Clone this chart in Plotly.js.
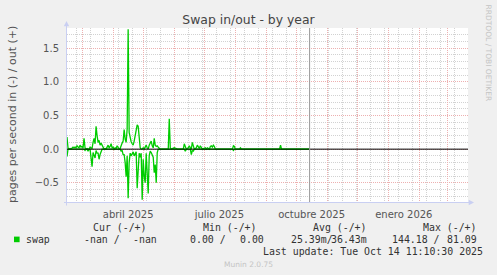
<!DOCTYPE html>
<html>
<head>
<meta charset="utf-8">
<script src="https://cdn.plot.ly/plotly-3.0.1.min.js"></script>
<style>html,body{margin:0;padding:0;background:#F0F0F0;}#chart{width:497px;height:275px;}</style>
</head>
<body>
<div id="chart"></div>
<script>
// ---- data ----
const dates = [
  "2025-02-14","2025-02-15","2025-02-16","2025-02-17","2025-02-18","2025-02-19","2025-02-20","2025-02-21","2025-02-22","2025-02-23",
  "2025-02-24","2025-02-25","2025-02-26","2025-02-27","2025-02-28",
  "2025-03-01","2025-03-02","2025-03-03","2025-03-04","2025-03-05","2025-03-06","2025-03-07","2025-03-08","2025-03-09","2025-03-10",
  "2025-03-11","2025-03-12","2025-03-13","2025-03-14","2025-03-15","2025-03-16","2025-03-17","2025-03-18","2025-03-19","2025-03-20",
  "2025-03-21","2025-03-22","2025-03-23","2025-03-24","2025-03-25","2025-03-26","2025-03-27","2025-03-28","2025-03-29","2025-03-30","2025-03-31",
  "2025-04-01","2025-04-02","2025-04-03","2025-04-04","2025-04-05","2025-04-06","2025-04-07","2025-04-08","2025-04-09","2025-04-10",
  "2025-04-11","2025-04-12","2025-04-13","2025-04-14","2025-04-15","2025-04-16","2025-04-17","2025-04-18","2025-04-19","2025-04-20",
  "2025-04-21","2025-04-22","2025-04-23","2025-04-24","2025-04-25","2025-04-26","2025-04-27","2025-04-28","2025-04-29","2025-04-30",
  "2025-05-01","2025-05-02","2025-05-03","2025-05-04","2025-05-05","2025-05-06","2025-05-07","2025-05-08","2025-05-09","2025-05-10",
  "2025-05-11","2025-05-12","2025-05-13","2025-05-14","2025-05-15","2025-05-16","2025-05-17","2025-05-18",
  "2025-05-26","2025-05-27","2025-05-28","2025-05-29","2025-06-01","2025-06-02","2025-06-03","2025-06-04",
  "2025-06-10","2025-06-11","2025-06-12","2025-06-13","2025-06-15","2025-06-16","2025-06-17","2025-06-18","2025-06-19","2025-06-20",
  "2025-06-21","2025-06-22","2025-06-23","2025-06-24","2025-06-25","2025-06-26","2025-06-27","2025-06-28","2025-06-29",
  "2025-07-02","2025-07-03","2025-07-04","2025-07-05","2025-07-06","2025-07-07","2025-07-08","2025-07-09","2025-07-10","2025-07-11","2025-07-12",
  "2025-07-29","2025-07-30","2025-07-31","2025-08-01","2025-08-05","2025-08-06","2025-08-07",
  "2025-09-14","2025-09-15","2025-09-16","2025-10-14"
];
// pages per second swapped out (+)
const swapOut = [
  0.18,0.02,0,0.01,0,0.02,0.03,0.02,0.03,0.02,
  0.05,0.03,0.02,0.06,0.03,
  0.04,0.02,0.16,0.02,0,0.01,0,0,0.03,0.02,
  0.01,0.10,0.16,0.08,0.34,0.20,0.10,0.13,0.06,0.09,
  0.05,0.02,0,0.01,0,0.03,0.06,0.02,0.04,0.08,0.02,
  0.03,0,0.02,0.01,0.05,0.02,0,0.01,0.06,0.09,
  0.12,0.29,0.15,0.10,0.30,1.78,0.25,0.14,0.11,0.08,
  0.06,0.12,0.22,0.33,0.36,0.34,0.20,0.02,0,0,
  0.02,0,0.03,0.06,0.02,0,0.06,0.09,0.12,0.05,
  0.02,0.16,0.06,0.04,0.05,0.03,0.01,0,
  0,0.45,0.02,0,0.02,0.02,0.01,0,
  0,0.08,0.02,0,0.02,0.05,0.02,0,0.10,0.03,
  0,0.01,0.02,0.06,0.02,0.01,0.05,0.02,0,
  0.02,0,0.02,0.01,0,0.04,0.05,0.03,0.06,0.04,0,
  0,0.05,0.04,0,0,0.02,0,
  0,0.06,0,0
];
// pages per second swapped in (-), drawn below zero
const swapIn = [
  0.11,0,0,0,0.01,0,0,0,0,0,
  0,0,0,0,0,
  0,0.01,0,0.02,0,0,0.03,0,0,0.13,
  0.26,0.05,0.11,0.13,0.02,0.06,0.06,0.15,0.08,0.04,
  0,0,0,0,0,0,0,0,0,0,0,
  0,0,0,0,0,0,0,0,0.03,0.02,
  0.08,0.08,0.20,0.41,0.10,0.73,0.20,0.06,0.10,0.06,
  0.04,0.10,0.06,0.04,0.58,0.30,0.06,0.12,0.06,0.75,
  0.15,0.40,0.50,0.06,0.30,0.66,0.10,0.03,0.05,0.08,
  0.12,0.35,0.23,0.50,0.05,0,0,0,
  0,0,0,0,0,0,0,0,
  0,0,0.03,0,0,0,0,0.08,0.02,0.03,
  0,0,0,0,0,0,0,0,0,
  0,0,0,0,0,0,0,0,0,0,0,
  0,0.02,0,0,0,0,0,
  0,0,0,0
];
const monthStarts = ["2025-03-01","2025-04-01","2025-05-01","2025-06-01","2025-07-01","2025-08-01","2025-09-01",
  "2025-10-01","2025-11-01","2025-12-01","2026-01-01","2026-02-01","2026-03-01"];
const labelDates = ["2025-04-16","2025-07-16","2025-10-16","2026-01-16"];
const labelText = ["abril 2025","julio 2025","octubre 2025","enero 2026"];
const nowDate = "2025-10-14";
const xRange = ["2025-02-14","2026-03-21"];
const yRange = [-0.8, 1.8];

// ---- layout helpers (pixel -> paper) ----
const L = 67, R = 468, T = 28, B = 203;
const px = v => (v - L) / (R - L);
const py = v => (B - v) / (B - T);

const green = "#00CC00";
const mono = "DejaVu Sans Mono";
const sans = "DejaVu Sans";

const traces = [
  {x: dates, y: swapOut, xaxis: "x", yaxis: "y", type: "scatter", mode: "lines",
   line: {color: green, width: 1.3}, hoverinfo: "skip", showlegend: false},
  {x: dates, y: swapIn.map(v => -v), xaxis: "x2", yaxis: "y", type: "scatter", mode: "lines",
   line: {color: green, width: 1.3}, hoverinfo: "skip", showlegend: false}
];

function txt(text, x, y, anchor, opts) {
  return Object.assign({text: text, xref: "paper", yref: "paper", x: px(x), y: py(y),
    xanchor: anchor, yanchor: "middle", showarrow: false, borderpad: 0, borderwidth: 0,
    font: {family: mono, size: 9.9, color: "#333333"}}, opts || {});
}

const annotations = [
  {text: "pages per second in (-) / out (+)", xref: "paper", yref: "paper", x: px(12.5), y: py(114.5),
   xanchor: "center", yanchor: "middle", textangle: -90, showarrow: false,
   font: {family: sans, size: 11, color: "#555555"}},
  {text: "RRDTOOL / TOBI OETIKER", xref: "paper", yref: "paper", x: px(488.5), y: py(53),
   xanchor: "center", yanchor: "middle", textangle: 90, showarrow: false,
   font: {family: sans, size: 7.5, color: "#C4C4C4"}},
  txt("Cur (-/+)", 147.3, 227.7, "right"),
  txt("Min (-/+)", 257.3, 227.7, "right"),
  txt("Avg (-/+)", 367.3, 227.7, "right"),
  txt("Max (-/+)", 476.8, 227.7, "right"),
  txt("swap", 26, 239.3, "left"),
  txt("-nan /", 83.8, 239.3, "left"),
  txt("-nan", 156.6, 239.3, "right"),
  txt("0.00 /", 190.2, 239.3, "left"),
  txt("0.00", 263.8, 239.3, "right"),
  txt("25.39m/", 290.5, 239.3, "left"),
  txt("36.43m", 367.3, 239.3, "right"),
  txt("144.18 /", 391.5, 239.3, "left"),
  txt("81.09", 477.3, 239.3, "right"),
  txt("Last update: Tue Oct 14 11:10:30 2025", 483.3, 251.7, "right"),
  {text: "Munin 2.0.75", xref: "paper", yref: "paper", x: px(248.5), y: py(264.3),
   xanchor: "center", yanchor: "middle", showarrow: false,
   font: {family: sans, size: 7.5, color: "#C4C4C4"}}
];

const axisBlue = "#C9CFF2";
const shapes = [
  {type: "line", xref: "paper", yref: "y", x0: 0, x1: 1, y0: 0, y1: 0, layer: "above",
   line: {color: "#000000", width: 1}},
  {type: "line", xref: "x", yref: "paper", x0: nowDate, x1: nowDate, y0: 0, y1: 1, layer: "above",
   line: {color: "#999999", width: 1}},
  {type: "line", xref: "paper", yref: "paper", x0: px(66.5), x1: px(66.5), y0: py(205.5), y1: py(24), layer: "above",
   line: {color: axisBlue, width: 1}},
  {type: "line", xref: "paper", yref: "paper", x0: px(64), x1: px(471), y0: py(202.5), y1: py(202.5), layer: "above",
   line: {color: axisBlue, width: 1}},
  {type: "path", xref: "paper", yref: "paper", layer: "above",
   path: `M ${px(63.8)} ${py(26.3)} L ${px(69.2)} ${py(26.3)} L ${px(66.5)} ${py(21)} Z`,
   fillcolor: axisBlue, line: {color: axisBlue, width: 0}},
  {type: "path", xref: "paper", yref: "paper", layer: "above",
   path: `M ${px(468.7)} ${py(199.8)} L ${px(468.7)} ${py(205.2)} L ${px(474)} ${py(202.5)} Z`,
   fillcolor: axisBlue, line: {color: axisBlue, width: 0}},
  {type: "rect", xref: "paper", yref: "paper", x0: px(14), x1: px(19.6), y0: py(242.2), y1: py(236.6),
   fillcolor: green, line: {width: 0}}
];

const redGrid = "#EDB0B0";
const grayGrid = "#D2D2D2";

const layout = {
  width: 497, height: 275,
  margin: {l: L, r: 497 - R, t: T, b: 275 - B, pad: 0},
  paper_bgcolor: "#F0F0F0", plot_bgcolor: "#FFFFFF",
  title: {text: "Swap in/out - by year", x: 0.5, xanchor: "center", y: 1 - 19.3 / 275, yanchor: "middle",
          font: {family: sans, size: 12.4, color: "#444444"}},
  showlegend: false,
  xaxis: {type: "date", range: xRange, tickmode: "array", tickvals: monthStarts,
          showticklabels: false, ticks: "", showgrid: true, gridcolor: redGrid, gridwidth: 1, griddash: "1px,1px",
          minor: {showgrid: true, tick0: "2025-02-23", dtick: 14 * 86400000, gridcolor: grayGrid, gridwidth: 1, griddash: "1px,1px", ticks: ""},
          zeroline: false, showline: false, fixedrange: true},
  xaxis2: {type: "date", overlaying: "x", matches: "x", anchor: "y", side: "bottom", range: xRange,
           tickmode: "array", tickvals: labelDates, ticktext: labelText, showgrid: false, zeroline: false,
           ticks: "outside", ticklen: 2, tickcolor: "rgba(0,0,0,0)",
           tickfont: {family: sans, size: 10, color: "#555555"}, showline: false, fixedrange: true},
  yaxis: {range: yRange, tickmode: "linear", tick0: 0, dtick: 0.5, tickformat: ".1f",
          showgrid: true, gridcolor: redGrid, gridwidth: 1, griddash: "1px,1px",
          minor: {showgrid: true, dtick: 0.1, gridcolor: grayGrid, gridwidth: 1, griddash: "1px,1px", ticks: ""},
          zeroline: false, showline: false, ticks: "outside", ticklen: 5, tickcolor: "rgba(0,0,0,0)",
          tickfont: {family: sans, size: 10, color: "#555555"}, fixedrange: true},
  annotations: annotations,
  shapes: shapes
};

Plotly.newPlot("chart", traces, layout, {displayModeBar: false, staticPlot: true});
</script>
</body>
</html>
